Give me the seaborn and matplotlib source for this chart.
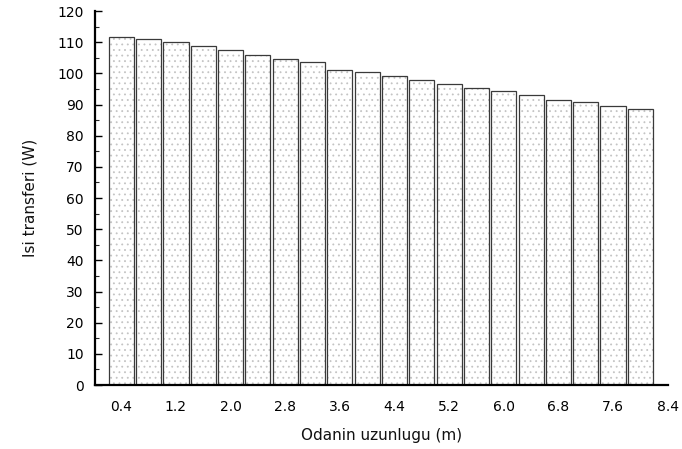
import numpy as np
import pandas as pd
import matplotlib
matplotlib.use("Agg")
import matplotlib.pyplot as plt
from matplotlib.ticker import MultipleLocator
import seaborn as sns

# ---- data ----
lengths = [0.4, 0.8, 1.2, 1.6, 2.0, 2.4, 2.8, 3.2, 3.6, 4.0,
           4.4, 4.8, 5.2, 5.6, 6.0, 6.4, 6.8, 7.2, 7.6, 8.0]
heat = [111.5, 111.0, 110.0, 108.7, 107.4, 105.8, 104.7, 103.5, 101.2, 100.3,
        99.0, 97.8, 96.6, 95.3, 94.2, 93.2, 91.6, 90.8, 89.4, 88.6]
x_ticks = [0.4, 1.2, 2.0, 2.8, 3.6, 4.4, 5.2, 6.0, 6.8, 7.6, 8.4]
x_tick_labels = ["0.4", "1.2", "2.0", "2.8", "3.6", "4.4", "5.2", "6.0", "6.8", "7.6", "8.4"]
y_ticks = [0, 10, 20, 30, 40, 50, 60, 70, 80, 90, 100, 110, 120]
x_label = "Odanin uzunlugu (m)"
y_label = "Isi transferi (W)"

df = pd.DataFrame({"length": lengths, "heat": heat})

sns.set_theme(style="white")
plt.rcParams["font.family"] = ["DejaVu Sans"]
plt.rcParams["hatch.linewidth"] = 0.6

fig = plt.figure(figsize=(6.82, 4.49), dpi=100)
ax = fig.add_axes([0.139, 0.1425, 0.840, 0.833])

# stippled fill
sns.barplot(data=df, x="length", y="heat", native_scale=True, width=0.92,
            color="white", edgecolor="#c4c4c4", linewidth=0.0, hatch="...",
            ax=ax, errorbar=None)
# dark outlines
sns.barplot(data=df, x="length", y="heat", native_scale=True, width=0.92,
            fill=False, color="#3a3a3a", linewidth=0.9, ax=ax, errorbar=None)

ax.set_ylim(0, 120)
ax.set_xlim(0.4 - 0.97 * 0.4, 8.4)
ax.set_yticks(y_ticks)
ax.yaxis.set_minor_locator(MultipleLocator(5))
ax.set_xticks(x_ticks, x_tick_labels)

for s in ["top", "right"]:
    ax.spines[s].set_visible(False)
for s in ["left", "bottom"]:
    ax.spines[s].set_visible(True)
    ax.spines[s].set_color("black")
    ax.spines[s].set_linewidth(1.6)

ax.tick_params(axis="y", which="major", direction="in", length=5, width=1.0,
               left=True, labelsize=10, pad=8, colors="black")
ax.tick_params(axis="y", which="minor", direction="in", length=3, width=0.8, left=True)
ax.tick_params(axis="x", which="major", length=0, labelsize=10, pad=11, colors="black")

ax.set_xlabel(x_label, fontsize=11, labelpad=10, color="#111111")
ax.set_ylabel(y_label, fontsize=11, labelpad=14, color="#111111")
ax.grid(False)

fig.savefig("out.png", dpi=100)
